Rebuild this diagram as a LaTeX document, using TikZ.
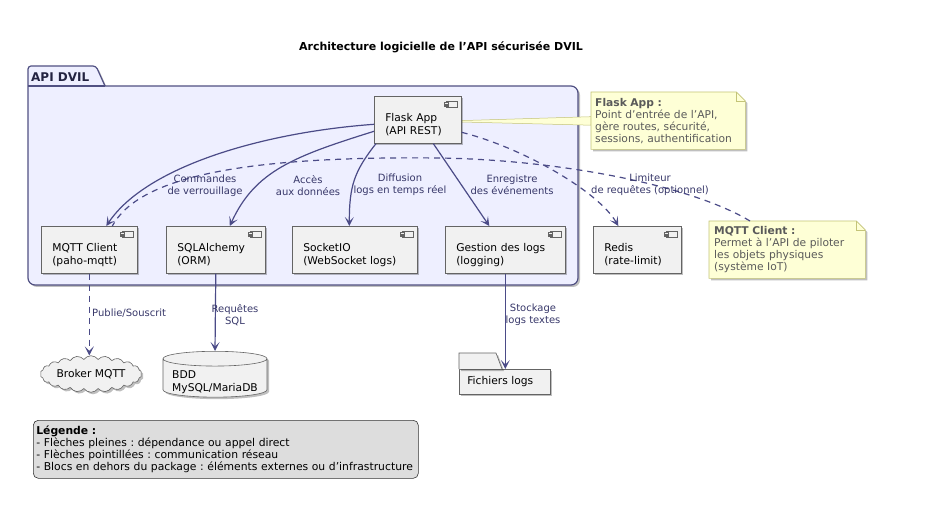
\documentclass[tikz,border=0pt]{standalone}
\usepackage{fontspec}
\setmainfont{DejaVu Sans}
\frenchspacing
\usetikzlibrary{arrows.meta,calc,backgrounds,shadows,shapes.geometric,shapes.symbols}
\definecolor{pkgfill}{RGB}{238,239,255}
\definecolor{pkgline}{RGB}{80,80,130}
\definecolor{boxfill}{RGB}{241,241,241}
\definecolor{boxline}{RGB}{100,100,100}
\definecolor{arrowc}{RGB}{75,75,135}
\definecolor{labelc}{RGB}{55,55,105}
\definecolor{notefill}{RGB}{254,255,214}
\definecolor{noteline}{RGB}{196,196,120}
\definecolor{notetext}{RGB}{90,90,90}
\definecolor{legendfill}{RGB}{221,221,221}
\tikzset{x=1pt, y=-1pt,
 boxfont/.style={font=\fontsize{10.7}{13}\selectfont},
 shade box/.style={drop shadow={shadow xshift=2pt, shadow yshift=-2pt, opacity=.25, fill=black}},
 comp/.style={draw=boxline, fill=boxfill, line width=0.6pt, anchor=north west,
   inner xsep=11pt, minimum height=47pt, align=left, boxfont, shade box,
   execute at begin node={\rule{0pt}{18pt}}},
 lbl/.style={text=labelc, font=\fontsize{10}{12}\selectfont, align=center, inner sep=1pt},
 dep/.style={draw=arrowc, line width=1.2pt, -{Stealth[length=9pt,width=9pt,inset=4.5pt]}},
 net/.style={dep, dash pattern=on 6pt off 5pt},
 note/.style={anchor=north west, align=left, text=notetext,
   font=\fontsize{10.7}{12}\selectfont, minimum height=57pt, inner sep=4pt},
}
\newcommand{\compicon}[1]{%
  \draw[boxline, line width=0.5pt, fill=boxfill] ($(#1.north east)+(-15,5)$) rectangle +(11,6);
  \draw[boxline, line width=0.5pt, fill=boxfill] ($(#1.north east)+(-17,6.5)$) rectangle +(4,1.5);
  \draw[boxline, line width=0.5pt, fill=boxfill] ($(#1.north east)+(-17,9)$) rectangle +(4,1.5);
}
\newcommand{\notebg}[1]{%
  \filldraw[fill=notefill, draw=noteline, line width=0.6pt, shade box] (#1.north west)
    -- ($(#1.north east)+(-9,0)$) -- ($(#1.north east)+(0,9)$) -- (#1.south east)
    -- (#1.south west) -- cycle;
  \draw[noteline, line width=0.6pt] ($(#1.north east)+(-9,0)$) -- ($(#1.north east)+(-9,9)$)
    -- ($(#1.north east)+(0,9)$);
}

\begin{document}
\begin{tikzpicture}
    \useasboundingbox (0,0) rectangle (952,526);
    \node[font=\bfseries\fontsize{11}{13}\selectfont] (title) at (441,47)
        {Architecture logicielle de l’API sécurisée DVIL};
    \node[font=\bfseries\fontsize{12}{14}\selectfont, text={rgb,255:red,35;green,35;blue,65}, anchor=west, inner sep=1pt]
        (pkgname) at (30,77) {API DVIL};

    % composants du package
    \node[comp, text width=65pt] (flask) at (374,96) {Flask App\\(API REST)};
    \node[comp, text width=74pt] (mqtt) at (41,226) {MQTT Client\\(paho-mqtt)};
    \node[comp, text width=77pt] (sql) at (166,226) {SQLAlchemy\\(ORM)};
    \node[comp, text width=103pt] (socket) at (292,226) {SocketIO\\(WebSocket logs)};
    \node[comp, text width=98pt] (logs) at (445,226) {Gestion des logs\\(logging)};
    \node[comp, text width=66pt] (redis) at (593,226) {Redis\\(rate-limit)};
    \foreach \c in {flask,mqtt,sql,socket,logs,redis} {\compicon{\c}}

    % externes
    \node[cloud, cloud puffs=22, cloud puff arc=110, aspect=3.4, draw=boxline, fill=boxfill,
        line width=0.6pt, minimum width=97pt, minimum height=30pt, boxfont, inner sep=1pt, shade box]
        (broker) at (91,374) {Broker MQTT};
    \node[cylinder, shape border rotate=90, shape aspect=0.16, draw=boxline, fill=boxfill,
        line width=0.6pt, minimum width=104pt, minimum height=44pt, inner ysep=0pt, anchor=north,
        boxfont, shade box] (bdd) at (215,351)
        {\raisebox{-3.5pt}[\height][\depth]{\begin{tabular}{@{}l@{}}BDD\\MySQL/MariaDB\end{tabular}}};
    \node[draw=boxline, fill=boxfill, line width=0.6pt, anchor=north west, minimum height=25pt,
        inner xsep=8pt, text width=75pt, align=left, boxfont, shade box] (files) at (459,369) {Fichiers logs};
    \filldraw[draw=boxline, fill=boxfill, line width=0.6pt, shade box] (files.north west) -- ++(0,-16)
        -- ++(37,0) -- ($(files.north west)+(43,0)$);

    % notes
    \node[note, text width=146pt] (fnote) at (591,92)
        {\textbf{Flask App :}\\Point d’entrée de l’API,\\gère routes, sécurité,\\sessions, authentification};
    \node[note, text width=146pt, inner xsep=5pt] (mnote) at (709,221)
        {\textbf{MQTT Client :}\\Permet à l’API de piloter\\les objets physiques\\(système IoT)};

    \begin{scope}[on background layer]
        \draw[pkgline, fill=pkgfill, line width=1.2pt, shade box] (28,76) -- (28,278)
            [rounded corners=7pt] -- (28,285) -- (578,285) -- (578,86) [sharp corners] -- (105,86)
            [rounded corners=3pt] -- (96,66) -- (28,66) [sharp corners] -- cycle;
        \draw[pkgline, line width=1.2pt] (28,86) -- (105,86);
        \filldraw[fill=notefill, draw=noteline, line width=0.5pt] ($(flask.east)+(0,0.8)$)
            -- ($(fnote.west)+(0,-4)$) -- ($(fnote.west)+(0,4.5)$) -- ($(flask.east)+(0,2.2)$) -- cycle;
        \notebg{fnote}
        \notebg{mnote}
    \end{scope}

    % liens
    \coordinate (bend) at (440,158);
    \draw[net, -] ($(mnote.north west)+(41,0)$) .. controls (690,185) and (560,160) .. (bend)
        .. controls (250,156) and (140,175) .. ($(mqtt.north)+(23,0)$);
    \draw[dep] ($(flask.west)+(0,4.5)$) .. controls +(-110,8) and +(40,-60) .. ($(mqtt.north)+(17,0)$);
    \draw[dep] ($(flask.west)+(0,11.5)$) .. controls +(-80,25) and +(25,-55) .. ($(sql.north)+(14,0)$);
    \draw[dep] ($(flask.south west)+(2,0)$) .. controls +(-22,28) and +(0,-40) .. ($(socket.north)+(-5.5,0)$);
    \draw[dep] ($(flask.south)+(15.5,0)$) -- ($(logs.north)+(-16,0)$);
    \draw[net] ($(flask.east)+(0,12.5)$) .. controls +(60,15) and +(-20,-35) .. ($(redis.north)+(-19,0)$);
    \draw[net] (mqtt.south) -- (mqtt.south |- broker.north);
    \draw[dep] (sql.south) -- (bdd.north);
    \draw[dep] (logs.south) -- (files.north -| logs.south);

    \node[lbl] (l1) at (205,186) {Commandes\\de verrouillage};
    \node[lbl] (l2) at (308,186) {Accès\\aux données};
    \node[lbl] (l3) at (400,185) {Diffusion\\logs en temps réel};
    \node[lbl] (l4) at (512,185) {Enregistre\\des événements};
    \node[lbl] (l5) at (650,185) {Limiteur\\de requêtes (optionnel)};
    \node[lbl, anchor=west] (l6) at (91,313) {Publie/Souscrit};
    \node[lbl] (l7) at (235,315) {Requêtes\\SQL};
    \node[lbl] (l8) at (533,315) {Stockage\\logs textes};

    % legende
    \node[draw=black!80, fill=legendfill, line width=0.6pt, rounded corners=5pt, anchor=north west,
        minimum height=58pt, text width=379pt, inner xsep=3pt, align=left,
        font=\fontsize{10.8}{12}\selectfont] (legend) at (33,420)
        {\textbf{Légende :}\\- Flèches pleines : dépendance ou appel direct\\- Flèches pointillées : communication réseau\\- Blocs en dehors du package : éléments externes ou d’infrastructure};
\end{tikzpicture}
\end{document}
